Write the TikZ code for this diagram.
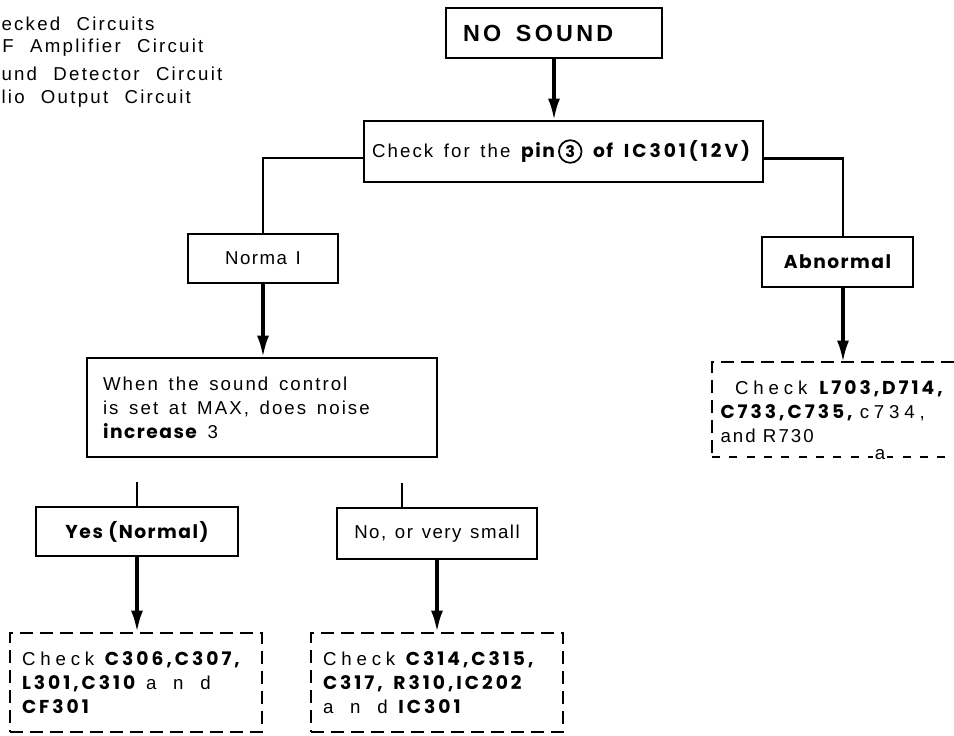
\documentclass[tikz,border=0pt]{standalone}
\usepackage{fontspec}
\setmainfont{Liberation Sans}
\newfontfamily\listfont{Liberation Sans}[LetterSpace=12,WordSpace=2.2]
\newfontfamily\plainfont{Liberation Sans}[LetterSpace=8,WordSpace=1.3]
\newfontfamily\widefont{Liberation Sans}[LetterSpace=11]
\newfontfamily\widerfont{Liberation Sans}[LetterSpace=26]
\newfontfamily\widestfont{Liberation Sans}[LetterSpace=90]
\newfontfamily\titlefont{Liberation Sans}[LetterSpace=14]
\newfontfamily\roundfont{Poppins}[LetterSpace=8]
\newfontfamily\codefont{Poppins}[LetterSpace=16]
\newcommand{\sz}{\fontsize{14}{18}\selectfont}
\usetikzlibrary{arrows.meta,calc}

\tikzset{every picture/.style={line width=0.75pt}}
\tikzset{
	box/.style={draw, line width=1.5pt, inner sep=0pt},
	dashbox/.style={draw, line width=1.6pt, dash pattern=on 10pt off 5pt, inner ysep=0pt},
	link/.style={line width=2.4pt, -{Latex[length=16pt,width=9pt]}},
	stub/.style={line width=1.8pt}}

\begin{document}
\begin{tikzpicture}[x=0.75pt,y=0.75pt,yscale=-1,xscale=1]
	\fill[white] (0,0) rectangle (954,736);
	\useasboundingbox (0,0) rectangle (954,736);

	% Text Node
	\node[anchor=west, inner sep=0pt, font=\listfont\sz] (chkhead) at (1,24) {ecked Circuits};
	% Text Node
	\node[anchor=west, inner sep=0pt, font=\listfont\sz] (chkif) at (2,48) {F Amplifier Circuit};
	% Text Node
	\node[anchor=west, inner sep=0pt, font=\listfont\sz] (chkdet) at (1,74) {und Detector Circuit};
	% Text Node
	\node[anchor=west, inner sep=0pt, font=\listfont\sz] (chkaudio) at (1,99) {lio Output Circuit};

	%Shape: Rectangle
	\node[box, line width=2.2pt, minimum height=37.5pt, text width=136.5pt, inner xsep=12.75pt, align=left,
		font=\titlefont\bfseries\fontsize{17.5}{18}\selectfont] (nosound) at (554,33) {\spaceskip=11pt\relax NO SOUND};
	%Shape: Rectangle
	\node[box, minimum height=45.75pt, text width=287pt, inner xsep=6pt, align=left, font=\widefont\sz] (check) at (563.5,151.5)
		{\spaceskip=8pt\relax\mbox{Check for the {\roundfont\bfseries pin}\,{\tikz[baseline=(pinthree.base)]\node[draw, circle, minimum size=0pt,
		text width=, line width=1.3pt, inner sep=1.9pt, font=\roundfont\bfseries\fontsize{12}{12}\selectfont] (pinthree) {3};}
		{\roundfont\bfseries of} {\codefont\bfseries IC301(12V)}}};
	%Shape: Rectangle
	\node[box, minimum width=112.5pt, minimum height=36.75pt, font=\plainfont\sz] (normal) at (263,258.5) {Norma I};
	%Shape: Rectangle
	\node[box, minimum width=113.25pt, minimum height=37.5pt, font=\roundfont\bfseries\sz] (abnormal) at (837.5,262) {Abnormal};
	%Shape: Rectangle
	\node[box, minimum height=74.25pt, text width=238.5pt, inner xsep=12pt, align=left, font=\widefont\sz] (question) at (262,407.5)
		{\spaceskip=8pt\relax When the sound control\\is set at MAX, does noise\\{\roundfont\bfseries increase} 3};
	%Shape: Rectangle
	\node[box, minimum width=151.5pt, minimum height=36.75pt, font=\roundfont\bfseries\sz] (yes) at (137,531.5) {Yes (Normal)};
	%Shape: Rectangle
	\node[box, minimum width=150pt, minimum height=38.25pt, font=\plainfont\sz] (no) at (437,533.5) {No, or very small};

	%Shape: Dashed Rectangle
	\node[dashbox, minimum height=74.25pt, text width=171pt, inner xsep=9pt, align=left, font=\widefont\sz] (yescheck) at (136,682.5)
		{\spaceskip=8pt\relax\mbox{{\widerfont Check} {\codefont\bfseries C306,C307,}}\\{\codefont\bfseries L301,C310} {\widestfont and}\\{\codefont\bfseries CF301}};
	%Shape: Dashed Rectangle
	\node[dashbox, minimum height=74.25pt, text width=171pt, inner xsep=9pt, align=left, font=\widefont\sz] (nocheck) at (437,682.5)
		{\spaceskip=8pt\relax\mbox{{\widerfont Check} {\codefont\bfseries C314,C315,}}\\{\codefont\bfseries C317, R310,IC202}\\{\widestfont and} {\codefont\bfseries IC301}};
	% Text Node
	\node[anchor=west, inner sep=0pt, align=left, font=\widefont\sz] (abncheck) at (720,411.5)
		{\spaceskip=9pt\relax\hspace*{11pt}{\widerfont Check} {\codefont\bfseries L703,D714,}\\{\codefont\bfseries C733,C735,} {\widerfont c734,}\\and R730};
	%Shape: Dashed Rectangle (open to the right)
	\draw[dashbox] (954,362) -| (712,457);
	\draw[line width=1.6pt, dash pattern=on 6pt off 7pt] (712,457) -- (954,457);
	% Text Node
	\node[fill=white, inner sep=1pt, font=\widefont\sz] (stray) at (880,455) {a};

	\coordinate (abntop) at (843,362);
	\coordinate (yesstub) at (137,482);
	\coordinate (nostub) at (402,483);

	%Straight Lines
	\draw[link] (nosound.south) -- (nosound.south |- check.north);
	\draw[stub] ($(check.west)+(0,6.5)$) -| (normal.north);
	\draw[stub] ($(check.east)+(0,7)$) -| ($(abnormal.north)+(5.5,0)$);
	\draw[link] (normal.south) -- (normal.south |- question.north);
	\draw[link] ($(abnormal.south)+(5.5,0)$) -- (abntop);
	\draw[stub] (yesstub) -- (yes.north);
	\draw[stub] (nostub) -- (nostub |- no.north);
	\draw[link] (yes.south) -- (yes.south |- yescheck.north);
	\draw[link] (no.south) -- (no.south |- nocheck.north);
\end{tikzpicture}
\end{document}
